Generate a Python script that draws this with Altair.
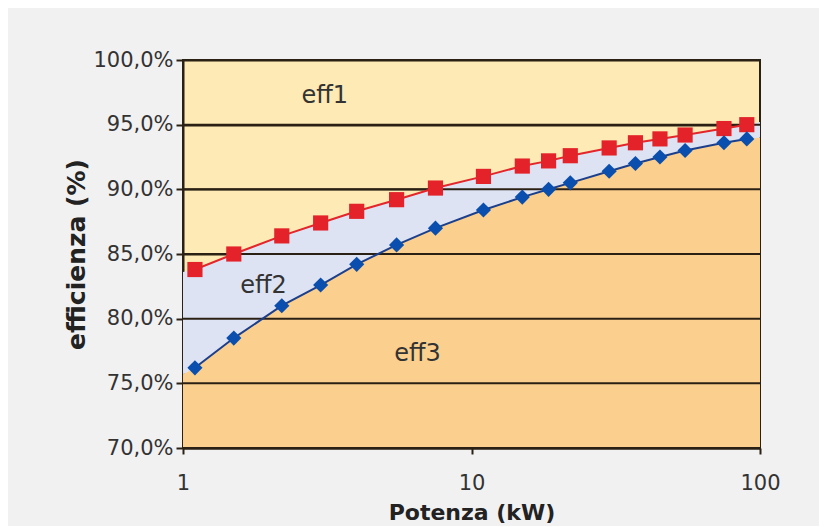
import altair as alt
import pandas as pd

# motor power (kW)
power = [1.1, 1.5, 2.2, 3, 4, 5.5, 7.5, 11, 15, 18.5, 22, 30, 37, 45, 55, 75, 90]
# eff1 / eff2 boundary (red squares), %
eff1_limit = [83.8, 85.0, 86.4, 87.4, 88.3, 89.2, 90.1, 91.0, 91.8, 92.2, 92.6,
              93.2, 93.6, 93.9, 94.2, 94.7, 95.0]
# eff2 / eff3 boundary (blue diamonds), %
eff2_limit = [76.2, 78.5, 81.0, 82.6, 84.2, 85.7, 87.0, 88.4, 89.4, 90.0, 90.5,
              91.4, 92.0, 92.5, 93.0, 93.6, 93.9]

# band edges at the axis ends
edge_power = [1, 100]
edge_eff1 = [83.6, 95.2]
edge_eff2 = [75.7, 94.0]

# class labels
class_names = ["eff1", "eff2", "eff3"]
class_x = [3.1, 1.9, 6.5]
class_y = [97.2, 82.5, 77.3]

y_ticks = [70, 75, 80, 85, 90, 95, 100]
x_ticks = [1, 10, 100]

pts = pd.DataFrame({"p": power, "e1": eff1_limit, "e2": eff2_limit})
band = pd.DataFrame({
    "p": [edge_power[0]] + power + [edge_power[1]],
    "e1": [edge_eff1[0]] + eff1_limit + [edge_eff1[1]],
    "e2": [edge_eff2[0]] + eff2_limit + [edge_eff2[1]],
})
band["base"] = 70
labels = pd.DataFrame({"t": class_names, "x": class_x, "y": class_y})

FONT = "DejaVu Sans"
GRID = "#2b2014"

xscale = alt.Scale(type="log", domain=[1, 100], nice=False)
yscale = alt.Scale(domain=[70, 100], zero=False, nice=False)

x_axis = alt.Axis(
    values=x_ticks, labelExpr="format(datum.value, 'd')", grid=False,
    title="Potenza (kW)", titleFont=FONT, titleFontSize=22, titleFontWeight="bold",
    titleColor="#222222", titlePadding=9,
    labelFont=FONT, labelFontSize=21, labelColor="#333333", labelPadding=18,
    tickSize=6, tickColor=GRID, tickWidth=2, domainColor=GRID, domainWidth=2,
    labelFlush=False,
)
y_axis = alt.Axis(
    values=y_ticks,
    labelExpr="replace(format(datum.value, '.1f'), '.', ',') + '%'",
    grid=True, gridColor=GRID, gridWidth=2, gridOpacity=1,
    title="efficienza (%)", titleFont=FONT, titleFontSize=25, titleFontWeight="bold",
    titleColor="#222222", titlePadding=3,
    labelFont=FONT, labelFontSize=21, labelColor="#333333", labelPadding=3,
    tickSize=7, tickColor=GRID, tickWidth=2, domainColor=GRID, domainWidth=2,
)

x_enc = alt.X("p:Q", scale=xscale, axis=x_axis)

eff3_area = alt.Chart(band).mark_area(color="#fbcf8e", opacity=1).encode(
    x=x_enc,
    y=alt.Y("e2:Q", scale=yscale, axis=y_axis),
    y2="base:Q",
)
eff2_area = alt.Chart(band).mark_area(color="#dde3f3", opacity=1).encode(
    x=alt.X("p:Q", scale=xscale),
    y=alt.Y("e1:Q", scale=yscale),
    y2="e2:Q",
)
grid_layer = alt.Chart(pd.DataFrame({"g": y_ticks})).mark_rule(
    color=GRID, strokeWidth=2
).encode(y=alt.Y("g:Q", scale=yscale))

red_line = alt.Chart(pts).mark_line(color="#e3262b", strokeWidth=2).encode(
    x=alt.X("p:Q", scale=xscale), y=alt.Y("e1:Q", scale=yscale))
red_pts = alt.Chart(pts).mark_point(
    shape="square", filled=True, color="#e3222a", size=230, opacity=1
).encode(x=alt.X("p:Q", scale=xscale), y=alt.Y("e1:Q", scale=yscale))

blue_line = alt.Chart(pts).mark_line(color="#1c3f8c", strokeWidth=2).encode(
    x=alt.X("p:Q", scale=xscale), y=alt.Y("e2:Q", scale=yscale))
blue_pts = alt.Chart(pts).mark_point(
    shape="diamond", filled=True, color="#0b4fae", size=230, opacity=1
).encode(x=alt.X("p:Q", scale=xscale), y=alt.Y("e2:Q", scale=yscale))

text = alt.Chart(labels).mark_text(
    font=FONT, fontSize=24, color="#333333", align="center", baseline="middle"
).encode(x=alt.X("x:Q", scale=xscale), y=alt.Y("y:Q", scale=yscale), text="t:N")

chart = alt.layer(
    eff3_area, eff2_area, grid_layer, red_line, blue_line, red_pts, blue_pts, text
).properties(
    width=577, height=388,
    autosize=alt.AutoSizeParams(type="none"),
    padding={"left": 175, "top": 52, "right": 59, "bottom": 78},
    background="#f1f1f1",
).configure_view(
    fill="#fdeab4", stroke=GRID, strokeWidth=2
)

chart.save("out.html", embed_options={"renderer": "svg", "actions": False})
